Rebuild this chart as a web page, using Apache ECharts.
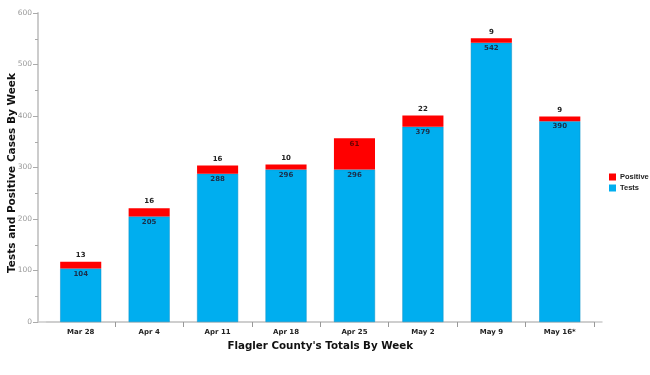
<!DOCTYPE html>
<html><head><meta charset="utf-8">
<script src="https://cdn.jsdelivr.net/npm/echarts@6/dist/echarts.min.js"></script>
<style>html,body{margin:0;padding:0;background:#fff}#c{width:650px;height:375px}</style>
</head><body><div id="c"></div>
<script>
var categories = ['Mar 28','Apr 4','Apr 11','Apr 18','Apr 25','May 2','May 9','May 16*'];
var tests = [104, 205, 288, 296, 296, 379, 542, 390];
var positive = [13, 16, 16, 10, 61, 22, 9, 9];
var yTicks = [0, 100, 200, 300, 400, 500, 600];
var yTitle = 'Tests and Positive Cases By Week';
var xTitle = "Flagler County's Totals By Week";

var FONT = 'DejaVu Sans';
var chart = echarts.init(document.getElementById('c'));
var posData = positive.map(function (v) {
  var big = v > 40;
  return {
    value: v,
    label: big ? { position: 'insideTop', color: '#6b0000', distance: 3 } : { position: 'top', color: '#222', distance: 3 }
  };
});
chart.setOption({
  animation: false,
  textStyle: { fontFamily: FONT },
  legend: {
    data: ['Positive', 'Tests'],
    orient: 'vertical',
    left: 604, top: 168,
    itemWidth: 7, itemHeight: 7, itemGap: 3,
    icon: 'rect',
    itemStyle: { borderWidth: 0 },
    textStyle: { fontFamily: 'Liberation Sans', fontSize: 7.5, color: '#222', fontWeight: 'bold', padding: [0,0,0,-1] }
  },
  graphic: [{
    type: 'text', x: 12, y: 173, rotation: Math.PI / 2,
    style: { text: yTitle, fontFamily: FONT, fontSize: 10.5, fontWeight: 'bold', fill: '#111',
      align: 'center', verticalAlign: 'middle' }
  }],
  grid: [
    { left: 46.5, right: 56, top: 13, bottom: 53, outerBoundsMode: 'none', containLabel: false },
    { left: 38, right: 48, top: 13, bottom: 53, outerBoundsMode: 'none', containLabel: false }
  ],
  xAxis: [
    {
      type: 'category', data: categories, gridIndex: 0,
      axisLine: { lineStyle: { color: '#cccccc', width: 1.5 } },
      axisTick: { show: true, length: 5, lineStyle: { color: '#999' },
        interval: function (i) { return i > 0; } },
      axisLabel: { fontFamily: FONT, fontSize: 7, fontWeight: 'bold', color: '#222', margin: 7 },
      name: xTitle,
      nameLocation: 'middle', nameGap: 19,
      nameTextStyle: { fontFamily: FONT, fontSize: 10.3, fontWeight: 'bold', color: '#111' }
    },
    {
      type: 'value', gridIndex: 1, min: 0, max: 1,
      axisLine: { show: true, lineStyle: { color: '#cccccc', width: 1.5 } },
      axisTick: { show: false }, axisLabel: { show: false }, splitLine: { show: false }
    }
  ],
  yAxis: [
    {
      type: 'value', gridIndex: 0, min: yTicks[0], max: yTicks[yTicks.length - 1], interval: 100,
      offset: 8.5,
      axisLine: { show: true, lineStyle: { color: '#cccccc', width: 2 } },
      axisTick: { show: true, length: 5, lineStyle: { color: '#aaa' } },
      minorTick: { show: true, splitNumber: 2, length: 3, lineStyle: { color: '#aaa' } },
      splitLine: { show: false },
      axisLabel: { fontFamily: FONT, fontSize: 7.5, color: '#999', margin: 6 }
    },
    { type: 'value', gridIndex: 1, show: false, min: 0, max: 1 }
  ],
  series: [
    {
      name: 'Tests', type: 'bar', stack: 's', data: tests, barWidth: '60%',
      itemStyle: { color: '#00AEEF', borderColor: '#0a8fc4', borderWidth: 0.5 },
      label: { show: true, position: 'insideTop', distance: 2, fontFamily: FONT, fontSize: 7, fontWeight: 'bold', color: '#1b2f4a' }
    },
    {
      name: 'Positive', type: 'bar', stack: 's', data: posData, barWidth: '60%',
      itemStyle: { color: '#FF0000' },
      label: { show: true, fontFamily: FONT, fontSize: 7, fontWeight: 'bold' }
    }
  ]
});
</script></body></html>
